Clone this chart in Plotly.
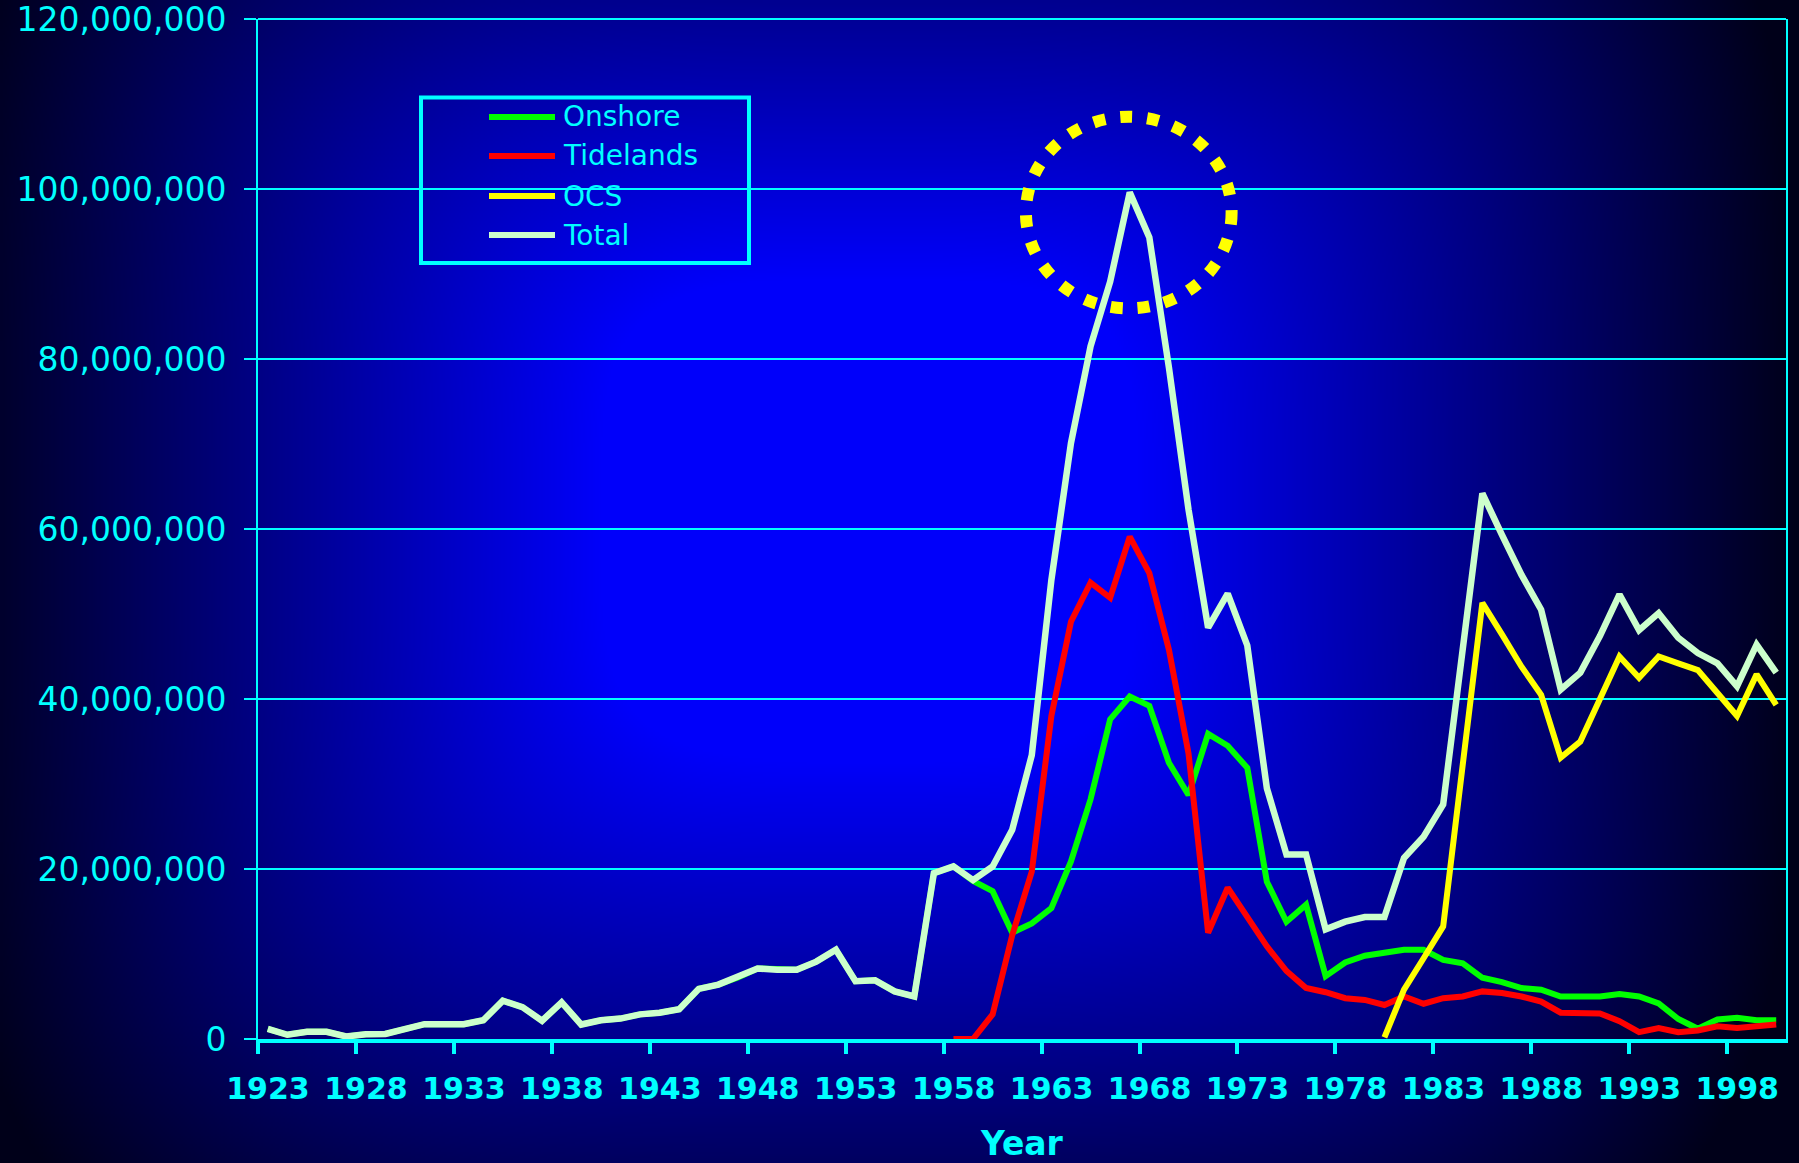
import base64
import struct
import zlib

import numpy as np
import plotly.graph_objects as go

# ---------------- data (values in millions) ----------------
years = list(range(1923, 2001))

total = [1.2, 0.5, 0.85, 0.85, 0.3, 0.55, 0.6, 1.15, 1.75, 1.75,
         1.75, 2.2, 4.5, 3.75, 2.15, 4.3, 1.7, 2.2, 2.4, 2.9,
         3.1, 3.5, 5.9, 6.4, 7.25, 8.3, 8.15, 8.15, 9.1, 10.5,
         6.8, 6.9, 5.6, 5.0, 19.5, 20.3, 18.7, 20.3, 24.6, 33.4,
         54.0, 70.1, 81.5, 89.1, 99.6, 94.3, 79.0, 62.3, 48.4, 52.4,
         46.3, 29.5, 21.7, 21.7, 12.9, 13.8, 14.35, 14.35, 21.3, 23.8,
         27.6, 45.9, 64.2, 59.3, 54.6, 50.5, 41.1, 43.1, 47.4, 52.3,
         48.1, 50.1, 47.2, 45.4, 44.2, 41.5, 46.4, 43.1]

onshore = [1.2, 0.5, 0.85, 0.85, 0.3, 0.55, 0.6, 1.15, 1.75, 1.75,
           1.75, 2.2, 4.5, 3.75, 2.15, 4.3, 1.7, 2.2, 2.4, 2.9,
           3.1, 3.5, 5.9, 6.4, 7.25, 8.3, 8.15, 8.15, 9.1, 10.5,
           6.8, 6.9, 5.6, 5.0, 19.5, 20.3, 18.6, 17.4, 12.5, 13.6,
           15.4, 20.9, 28.2, 37.6, 40.3, 39.2, 32.5, 28.7, 35.9, 34.5,
           31.9, 18.5, 13.8, 15.8, 7.4, 9.0, 9.8, 10.1, 10.5, 10.5,
           9.3, 8.9, 7.2, 6.7, 6.0, 5.8, 5.0, 5.0, 5.0, 5.3,
           5.0, 4.2, 2.35, 1.2, 2.3, 2.5, 2.2, 2.2]

tidelands_years = list(range(1958, 2001))
tidelands = [0.0, 0.0, 2.9, 12.2, 19.7, 38.0, 49.1, 53.7, 51.9, 59.1,
             54.8, 45.8, 33.6, 12.5, 17.8, 14.2, 10.9, 8.0, 6.0, 5.5,
             4.8, 4.6, 4.0, 5.0, 4.15, 4.8, 5.0, 5.6, 5.4, 5.0,
             4.4, 3.1, 3.0, 3.0, 2.1, 0.8, 1.3, 0.8, 1.0, 1.5,
             1.3, 1.5, 1.7]

ocs_years = list(range(1980, 2001))
ocs = [0.2, 5.8, 9.5, 13.25, 32.3, 51.3, 47.6, 43.8, 40.5, 33.1,
       35.0, 40.0, 45.0, 42.5, 45.0, 44.2, 43.4, 40.7, 38.0, 42.9,
       39.3]

tick_years = list(range(1923, 1999, 5))
series_names = ["Onshore", "Tidelands", "OCS", "Total"]
series_colors = ["#00FF00", "#FF0000", "#FFFF00", "#CCFFCC"]

# ---------------- geometry / style ----------------
FIG_W, FIG_H = 1799, 1163
ML, MR, MT, MB = 258, 13, 19, 124
PW = FIG_W - ML - MR
PH = FIG_H - MT - MB
CYAN = "#00FFFF"
FONT = "DejaVu Sans"
MIL = 1e6


def px_to_paper_x(px):
    return (px - ML) / PW


def px_to_paper_y(py):
    return (FIG_H - MB - py) / PH


def gradient_uri():
    W, H = 900, 582
    yy, xx = np.mgrid[0:H, 0:W]
    px = (xx + 0.5) * FIG_W / W
    py = (yy + 0.5) * FIG_H / H
    dx = np.abs(px - 870) / 950
    dy = np.abs(py - 520) / 850
    d = (dx ** 4 + dy ** 4) ** 0.25
    f = np.clip(1.37 - 1.3 * d, 0.1, 1.0)
    img = np.zeros((H, W, 3), dtype=np.uint8)
    img[..., 2] = (f * 250).astype(np.uint8)
    raw = b"".join(b"\x00" + img[i].tobytes() for i in range(H))

    def chunk(t, data):
        c = struct.pack(">I", len(data)) + t + data
        return c + struct.pack(">I", zlib.crc32(t + data) & 0xFFFFFFFF)

    png = (b"\x89PNG\r\n\x1a\n"
           + chunk(b"IHDR", struct.pack(">IIBBBBB", W, H, 8, 2, 0, 0, 0))
           + chunk(b"IDAT", zlib.compress(raw, 9))
           + chunk(b"IEND", b""))
    return "data:image/png;base64," + base64.b64encode(png).decode()


fig = go.Figure()

fig.add_trace(go.Scatter(x=years, y=[v * MIL for v in onshore], mode="lines",
                         name="Onshore", line=dict(color=series_colors[0], width=6)))
fig.add_trace(go.Scatter(x=tidelands_years, y=[v * MIL for v in tidelands], mode="lines",
                         name="Tidelands", line=dict(color=series_colors[1], width=6)))
fig.add_trace(go.Scatter(x=ocs_years, y=[v * MIL for v in ocs], mode="lines",
                         name="OCS", line=dict(color=series_colors[2], width=6)))
fig.add_trace(go.Scatter(x=years, y=[v * MIL for v in total], mode="lines",
                         name="Total", line=dict(color=series_colors[3], width=6.5)))

shapes = []
# top border line of the plot area
shapes.append(dict(type="line", xref="paper", yref="paper", x0=0, x1=1, y0=1, y1=1,
                   line=dict(color=CYAN, width=2)))
# dotted highlight circle around the peak
shapes.append(dict(type="circle", xref="x", yref="y", x0=1961.7, x1=1972.2,
                   y0=85.95 * MIL, y1=108.5 * MIL,
                   line=dict(color="#FFFF00", width=12, dash="12px,15px")))
# manual legend box
shapes.append(dict(type="rect", xref="paper", yref="paper",
                   x0=px_to_paper_x(421), x1=px_to_paper_x(749),
                   y0=px_to_paper_y(263), y1=px_to_paper_y(97.5),
                   line=dict(color=CYAN, width=4), fillcolor="rgba(0,0,0,0)"))
annotations = []
row_y = [117, 156, 196, 235]
for name, color, ry in zip(series_names, series_colors, row_y):
    shapes.append(dict(type="line", xref="paper", yref="paper",
                       x0=px_to_paper_x(489), x1=px_to_paper_x(555),
                       y0=px_to_paper_y(ry), y1=px_to_paper_y(ry),
                       line=dict(color=color, width=6)))
    annotations.append(dict(text=name, xref="paper", yref="paper",
                            x=px_to_paper_x(561), y=px_to_paper_y(ry),
                            xanchor="left", yanchor="middle", showarrow=False,
                            font=dict(family=FONT, size=28, color=CYAN)))

fig.update_layout(
    width=FIG_W, height=FIG_H,
    margin=dict(l=ML, r=MR, t=MT, b=MB, autoexpand=False),
    paper_bgcolor="#000033",
    plot_bgcolor="rgba(0,0,0,0)",
    showlegend=False,
    shapes=shapes,
    annotations=annotations,
    images=[dict(source=gradient_uri(), xref="paper", yref="paper",
                 x=-ML / PW, y=1 + MT / PH, sizex=FIG_W / PW, sizey=FIG_H / PH,
                 sizing="stretch", xanchor="left", yanchor="top", layer="below")],
    xaxis=dict(
        range=[1922.5, 2000.5],
        automargin=False,
        tickmode="array",
        tickvals=[y - 0.5 for y in tick_years],
        ticktext=[str(y) for y in tick_years],
        ticklabelshift=10,
        ticklabelstandoff=9,
        ticklabeloverflow="allow",
        ticks="outside", ticklen=11, tickwidth=4, tickcolor=CYAN,
        showline=True, linewidth=4, linecolor=CYAN,
        showgrid=False, zeroline=False,
        tickfont=dict(family=FONT, size=30, color=CYAN, weight="bold"),
        title=dict(text="<b>Year</b>", standoff=28,
                   font=dict(family=FONT, size=33, color=CYAN)),
    ),
    yaxis=dict(
        range=[0, 120 * MIL],
        automargin=False,
        dtick=20 * MIL,
        tickformat=",",
        ticks="outside", ticklen=12, tickwidth=2, tickcolor=CYAN,
        ticklabelstandoff=11,
        ticklabeloverflow="allow",
        showline=True, linewidth=2, linecolor=CYAN, mirror=True,
        showgrid=True, gridcolor=CYAN, gridwidth=2,
        zeroline=False,
        tickfont=dict(family=FONT, size=33, color=CYAN),
    ),
)

fig.write_html("out.html", config={"displayModeBar": False},
               post_script="document.body.style.margin='0';document.body.style.overflow='hidden';")
